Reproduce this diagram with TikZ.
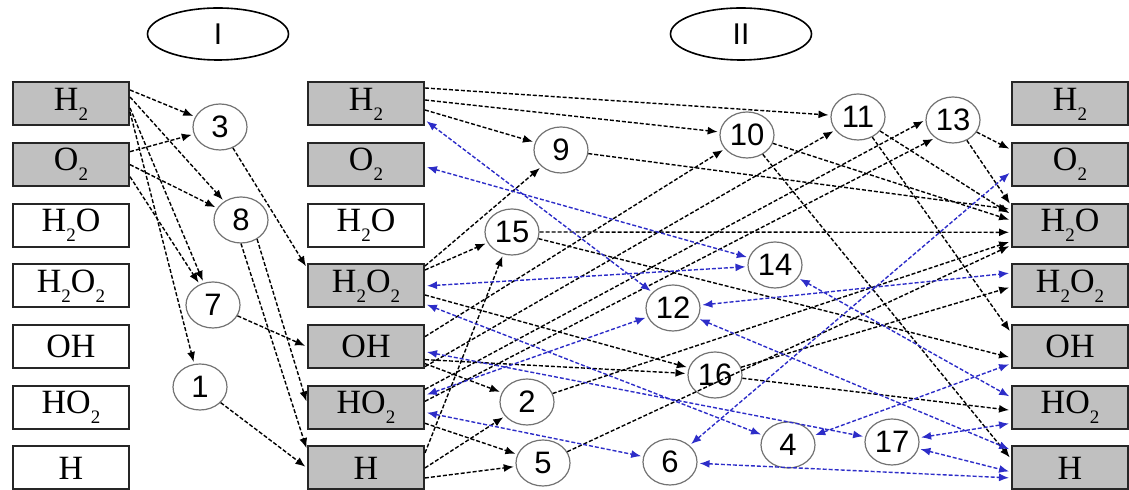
\documentclass[tikz,border=0pt]{standalone}
\usepackage{fontspec}
\setmainfont{Liberation Serif}
\setsansfont{Liberation Sans}
\usetikzlibrary{positioning,shapes.geometric,arrows.meta,calc}
\definecolor{boxgray}{RGB}{192,192,192}
\definecolor{revblue}{RGB}{45,45,200}
\newcommand{\chsub}[1]{\raisebox{-0.65ex}{\fontsize{9.5}{9.5}\selectfont #1}}

\begin{document}
\begin{tikzpicture}[
						x=0.5pt, y=-0.5pt,
						node distance=30.33pt,
						>={Latex[length=5pt,width=4pt]},
						shorten >=1pt,
						spec/.style = {draw=black!85, line width=1pt, minimum width=58pt, minimum height=21.5pt, inner sep=0pt, font=\fontsize{17}{18}\selectfont},
						live/.style = {spec, fill=boxgray},
						rxn/.style = {draw=black!55, line width=0.6pt, ellipse, minimum width=27pt, minimum height=23pt, inner sep=0pt, font=\sffamily\fontsize{15.5}{15.5}\selectfont},
						grp/.style = {draw, line width=0.8pt, ellipse, minimum width=70.5pt, minimum height=26pt, inner sep=0pt, font=\sffamily\fontsize{15}{15}\selectfont},
						fwd/.style = {->, line width=0.7pt, dash pattern=on 2pt off 1pt},
						rev/.style = {<->, revblue, line width=0.7pt, dash pattern=on 2pt off 1pt, shorten <=1pt}
					]
					\useasboundingbox (0,0) rectangle (1129,490);
					\node[grp] (g1) at (218,34) {I};
					\node[grp] (g2) at (741,34) {II};
					% species, first column
					\node[live] (aH2) at (71,104) {H\chsub{2}};
					\node[live] (aO2) [below of=aH2] {O\chsub{2}};
					\node[spec] (aH2O) [below of=aO2] {H\chsub{2}O};
					\node[spec] (aH2O2) [below of=aH2O] {H\chsub{2}O\chsub{2}};
					\node[spec] (aOH) [below of=aH2O2] {OH};
					\node[spec] (aHO2) [below of=aOH] {HO\chsub{2}};
					\node[spec] (aH) [below of=aHO2] {H};
					% species, second column
					\node[live] (bH2) at (366,104) {H\chsub{2}};
					\node[live] (bO2) [below of=bH2] {O\chsub{2}};
					\node[spec] (bH2O) [below of=bO2] {H\chsub{2}O};
					\node[live] (bH2O2) [below of=bH2O] {H\chsub{2}O\chsub{2}};
					\node[live] (bOH) [below of=bH2O2] {OH};
					\node[live] (bHO2) [below of=bOH] {HO\chsub{2}};
					\node[live] (bH) [below of=bHO2] {H};
					% species, third column
					\node[live] (cH2) at (1070,104) {H\chsub{2}};
					\node[live] (cO2) [below of=cH2] {O\chsub{2}};
					\node[live] (cH2O) [below of=cO2] {H\chsub{2}O};
					\node[live] (cH2O2) [below of=cH2O] {H\chsub{2}O\chsub{2}};
					\node[live] (cOH) [below of=cH2O2] {OH};
					\node[live] (cHO2) [below of=cOH] {HO\chsub{2}};
					\node[live] (cH) [below of=cHO2] {H};
					% reactions
					\node[rxn] (r3) at (220,127) {3};
					\node[rxn] (r8) at (241,220) {8};
					\node[rxn] (r7) at (213,305) {7};
					\node[rxn] (r1) at (200,387) {1};
					\node[rxn] (r9) at (561,150) {9};
					\node[rxn] (r15) at (512,232) {15};
					\node[rxn] (r10) at (747,135) {10};
					\node[rxn] (r11) at (858,117) {11};
					\node[rxn] (r13) at (953,120) {13};
					\node[rxn] (r14) at (775,265) {14};
					\node[rxn] (r12) at (673,308) {12};
					\node[rxn] (r16) at (715,375) {16};
					\node[rxn] (r2) at (527,402) {2};
					\node[rxn] (r5) at (543,463) {5};
					\node[rxn] (r6) at (670,462) {6};
					\node[rxn] (r4) at (788,445) {4};
					\node[rxn] (r17) at (892,442) {17};
					% group I
					\draw[fwd] ($(aH2.east)+(0,-14)$) to (r3);
					\draw[fwd] ($(aO2.east)+(0,-13)$) to (r3);
					\draw[fwd] ($(aH2.east)+(0,-7)$) to (r8);
					\draw[fwd] (aO2.east) to (r8);
					\draw[fwd] ($(aH2.east)+(0,4)$) to (r7);
					\draw[fwd] ($(aO2.east)+(0,12)$) to (r7);
					\draw[fwd] ($(aH2.east)+(0,8)$) to (r1);
					\draw[fwd] (r3) to ($(bH2O2.west)+(0,-18)$);
					\draw[fwd] (r7) to (bOH.west);
					\draw[fwd] (r8.-50) to ($(bHO2.west)+(0,-4)$);
					\draw[fwd] (r8.south) to ($(bH.west)+(0,-18)$);
					\draw[fwd] (r1) to (bH.west);
					% group II, inputs
					\draw[fwd] ($(bH2.east)+(0,-16)$) to (r11);
					\draw[fwd] ($(bH2.east)+(0,-4)$) to (r10);
					\draw[fwd] ($(bH2.east)+(0,6)$) to (r9);
					\draw[fwd] ($(bH2O2.east)+(0,-20)$) to (r9);
					\draw[fwd] ($(bH2O2.east)+(0,-16)$) to (r15);
					\draw[fwd] ($(bH2O2.east)+(0,9)$) to (r16);
					\draw[fwd] ($(bOH.east)+(0,-10)$) to (r10);
					\draw[fwd] ($(bOH.east)+(0,20)$) to (r11);
					\draw[fwd] ($(bOH.east)+(0,13)$) to (r16);
					\draw[fwd] ($(bOH.east)+(0,17)$) to (r2);
					\draw[fwd] ($(bHO2.east)+(0,-18)$) to (r13.west);
					\draw[fwd] ($(bHO2.east)+(0,-6)$) to (r13.225);
					\draw[fwd] ($(bHO2.east)+(0,16)$) to (r5);
					\draw[fwd] ($(bH.east)+(0,-15)$) to (r15);
					\draw[fwd] (bH.east) to (r2);
					\draw[fwd] ($(bH.east)+(0,10)$) to (r5);
					% group II, products
					\draw[fwd] (r9) to ($(cH2O.west)+(0,-16)$);
					\draw[fwd] (r10) to ($(cH2O.west)+(0,-5)$);
					\draw[fwd] (r10) to ($(cH.west)+(0,-9)$);
					\draw[fwd] (r11) to ($(cH2O.west)+(0,-11)$);
					\draw[fwd] (r11) to ($(cOH.west)+(0,-14)$);
					\draw[fwd] (r13) to ($(cO2.west)+(0,-15)$);
					\draw[fwd] (r13) to ($(cH2O.west)+(0,-20)$);
					\draw[fwd] (r15) to ($(cH2O.west)+(0,7)$);
					\draw[fwd] (r15) to ($(cOH.west)+(0,11)$);
					\draw[fwd] (r16) to ($(cH2O2.west)+(0,1)$);
					\draw[fwd] (r16) to ($(cHO2.west)+(0,3)$);
					\draw[fwd] (r2) to ($(cH2O.west)+(0,16)$);
					\draw[fwd] (r5) to ($(cH2O.west)+(0,20)$);
					% reversible links
					\draw[rev] ($(bH2.east)+(0,16)$) to (r12);
					\draw[rev] ($(bO2.east)+(0,2)$) to (r14);
					\draw[rev] (bH2O2.east) to (r14);
					\draw[rev] ($(bH2O2.east)+(0,18)$) to (r4);
					\draw[rev] ($(bOH.east)+(0,5)$) to (r17);
					\draw[rev] ($(bHO2.east)+(0,-12)$) to (r12);
					\draw[rev] ($(bHO2.east)+(0,5)$) to (r6);
					\draw[rev] (r12) to ($(cH2O2.west)+(0,-13)$);
					\draw[rev] (r12) to ($(cH.west)+(0,-18)$);
					\draw[rev] (r14) to ($(cHO2.west)+(0,-10)$);
					\draw[rev] (r6) to ($(cO2.west)+(0,7)$);
					\draw[rev] (r6) to ($(cH.west)+(0,10)$);
					\draw[rev] (r4) to ($(cOH.west)+(0,17)$);
					\draw[rev] (r17) to ($(cHO2.west)+(0,16)$);
					\draw[rev] (r17) to ($(cH.west)+(0,4)$);
				\end{tikzpicture}
\end{document}
